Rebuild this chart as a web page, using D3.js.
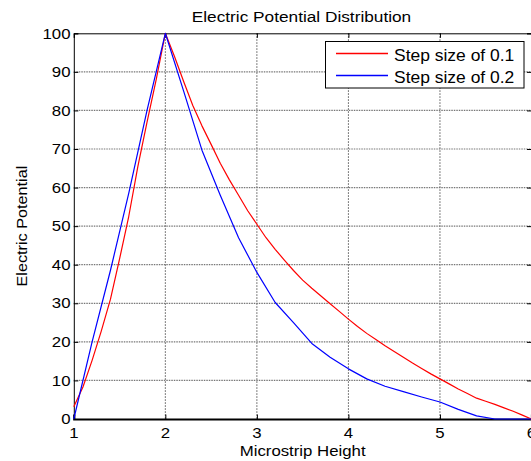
<!DOCTYPE html>
<html>
<head>
<meta charset="utf-8">
<script src="https://cdn.jsdelivr.net/npm/d3@7"></script>
<style>
  html, body { margin: 0; padding: 0; background: #fff; }
  svg { display: block; }
  text { font-family: "Liberation Sans", Arial, Helvetica, sans-serif; fill: #000; }
</style>
</head>
<body>
<svg id="chart" width="531" height="461"></svg>
<script>
// ---------- data ----------
const titleText = "Electric Potential Distribution";
const xLabelText = "Microstrip Height";
const yLabelText = "Electric Potential";
const seriesNames = ["Step size of 0.1", "Step size of 0.2"];
const seriesColors = ["#ff0000", "#0000ff"];

const xTicks = [1, 2, 3, 4, 5, 6];
const yTicks = [0, 10, 20, 30, 40, 50, 60, 70, 80, 90, 100];

const xStep01 = [1.0,1.1,1.2,1.3,1.4,1.5,1.6,1.7,1.8,1.9,2.0,2.1,2.2,2.3,2.4,2.5,2.6,2.7,2.8,2.9,
                 3.0,3.1,3.2,3.3,3.4,3.5,3.6,3.7,3.8,3.9,4.0,4.1,4.2,4.3,4.4,4.5,4.6,4.7,4.8,4.9,
                 5.0,5.1,5.2,5.3,5.4,5.5,5.6,5.7,5.8,5.9,6.0];
const yStep01 = [3.2,8.3,15.2,22.8,31.0,41.5,52.5,65.5,77.0,88.0,100,94.0,87.5,81.3,76.0,71.2,66.3,62.0,58.0,54.0,
                 50.5,47.0,44.0,41.2,38.5,36.0,33.9,31.9,29.9,27.9,25.9,24.0,22.2,20.6,19.0,17.5,16.0,14.5,13.1,11.7,
                 10.4,9.1,7.8,6.6,5.4,4.6,3.8,2.9,2.0,1.0,0];

const xStep02 = [1.0,1.2,1.4,1.6,1.8,2.0,2.2,2.4,2.6,2.8,3.0,3.2,3.4,3.6,3.8,4.0,4.2,4.4,4.6,4.8,5.0,5.2,5.4,5.6,5.8,6.0];
const yStep02 = [0,20,38.5,58.5,80,100,85,69.7,58,47,38,30.2,25,19.6,16,13,10.4,8.5,7.1,5.7,4.4,2.5,0.8,0,0,0];

// ---------- layout ----------
const svg = d3.select("#chart");
const L = 73.8, R = 531.5, T = 33.3, B = 419;
const SX = 1.12;     // horizontal glyph stretch seen in the reference
const FS = 15;

const x = d3.scaleLinear().domain([1, 6]).range([L, R]);
const y = d3.scaleLinear().domain([0, 100]).range([B, T]);

function stretchedText(g, tx, ty, str, anchor, size, rotate) {
  return g.append("text")
    .attr("transform", `translate(${tx},${ty})` + (rotate ? ` rotate(${rotate})` : "") + ` scale(${SX},1)`)
    .attr("text-anchor", anchor)
    .attr("font-size", size)
    .text(str);
}

// grid
const grid = svg.append("g");
grid.selectAll("line.gx").data(xTicks.slice(1, -1)).join("line")
  .attr("x1", d => x(d)).attr("x2", d => x(d)).attr("y1", T).attr("y2", B)
  .attr("stroke", "#555").attr("stroke-width", 1).attr("stroke-dasharray", "1.5,1.5");
grid.selectAll("line.gy").data(yTicks.slice(1, -1)).join("line")
  .attr("x1", L).attr("x2", R).attr("y1", d => y(d)).attr("y2", d => y(d))
  .attr("stroke", "#777").attr("stroke-width", 1.2).attr("stroke-dasharray", "1.5,1");

// axes (inward ticks)
const tickLen = 4.5;
const axB = svg.append("g").attr("transform", `translate(0,${B})`)
  .call(d3.axisBottom(x).tickValues(xTicks).tickSize(-tickLen).tickPadding(0).tickFormat(""));
const axT = svg.append("g").attr("transform", `translate(0,${T})`)
  .call(d3.axisTop(x).tickValues(xTicks).tickSize(-tickLen).tickFormat(""));
const axL = svg.append("g").attr("transform", `translate(${L},0)`)
  .call(d3.axisLeft(y).tickValues(yTicks).tickSize(-tickLen).tickFormat(""));
const axR = svg.append("g").attr("transform", `translate(${R},0)`)
  .call(d3.axisRight(y).tickValues(yTicks).tickSize(-tickLen).tickFormat(""));
[axB, axT, axL, axR].forEach(a => {
  a.selectAll("path.domain").attr("stroke", "#000").attr("stroke-width", 1);
  a.selectAll(".tick line").attr("stroke", "#000").attr("stroke-width", 1);
});
axB.select("path.domain").attr("stroke-width", 2.2);

// tick labels
const labels = svg.append("g");
xTicks.forEach(v => stretchedText(labels, x(v), 437.5, String(v), "middle", FS));
yTicks.forEach(v => stretchedText(labels, 70.5, y(v) + 5.2, String(v), "end", FS));

// lines
const line = d3.line().x(d => x(d[0])).y(d => y(d[1]));
const s1 = xStep01.map((v, i) => [v, yStep01[i]]);
const s2 = xStep02.map((v, i) => [v, yStep02[i]]);
svg.append("path").datum(s1).attr("d", line).attr("fill", "none")
  .attr("stroke", seriesColors[0]).attr("stroke-width", 1.2).attr("stroke-linejoin", "round");
svg.append("path").datum(s2).attr("d", line).attr("fill", "none")
  .attr("stroke", seriesColors[1]).attr("stroke-width", 1.2).attr("stroke-linejoin", "round");

// title & axis labels
stretchedText(svg, 301.5, 22, titleText, "middle", 15.4);
stretchedText(svg, (L + R) / 2, 456, xLabelText, "middle", FS);
stretchedText(svg, 26.5, (T + B) / 2, yLabelText, "middle", 14.5, -90);

// legend
const lg = svg.append("g");
lg.append("rect").attr("x", 325.5).attr("y", 41.5).attr("width", 198.5).attr("height", 46.5)
  .attr("fill", "#fff").attr("stroke", "#000").attr("stroke-width", 1);
const legendRows = lg.selectAll("g.row").data(seriesNames).join("g").attr("class", "row");
legendRows.append("path")
  .attr("d", (d, i) => `M336,${53.5 + i * 22}H388`)
  .attr("fill", "none")
  .style("stroke", (d, i) => seriesColors[i])
  .style("stroke-width", "1.3px");
legendRows.each(function(d, i) {
  stretchedText(d3.select(this), 394, 53.5 + i * 22 + 7, d, "start", 15.6);
});
</script>
</body>
</html>
